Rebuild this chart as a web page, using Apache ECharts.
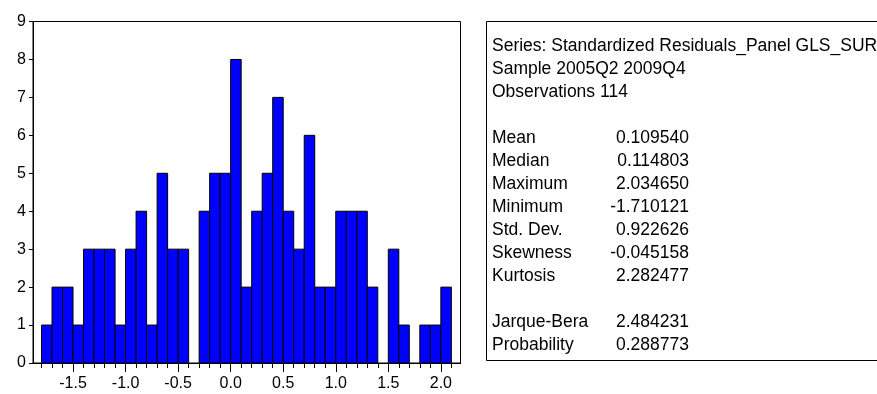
<!DOCTYPE html>
<html>
<head>
<meta charset="utf-8">
<script src="https://cdn.jsdelivr.net/npm/echarts@6/dist/echarts.min.js"></script>
<style>
  html, body { margin: 0; padding: 0; background: #fff; }
  #main { width: 877px; height: 394px; }
</style>
</head>
<body>
<div id="main"></div>
<script>
// histogram bins (left edge of each 0.1 wide bin) and counts
var binStarts = [-1.8, -1.7, -1.6, -1.5, -1.4, -1.3, -1.2, -1.1, -1.0, -0.9, -0.8, -0.7, -0.6, -0.5, -0.4, -0.3, -0.2, -0.1,
                 0.0, 0.1, 0.2, 0.3, 0.4, 0.5, 0.6, 0.7, 0.8, 0.9, 1.0, 1.1, 1.2, 1.3, 1.4, 1.5, 1.6, 1.7, 1.8, 1.9, 2.0];
var counts = [1, 2, 2, 1, 3, 3, 3, 1, 3, 4, 1, 5, 3, 3, 0, 4, 5, 5,
              8, 2, 4, 5, 7, 4, 3, 6, 2, 2, 4, 4, 4, 2, 0, 3, 1, 0, 1, 1, 2];
var binWidth = 0.1;

var xMajorTicks = [-1.5, -1.0, -0.5, 0.0, 0.5, 1.0, 1.5, 2.0];
var xMinorTicks = [-1.8, -1.7, -1.6, -1.5, -1.4, -1.3, -1.2, -1.1, -1.0, -0.9, -0.8, -0.7, -0.6, -0.5, -0.4, -0.3, -0.2, -0.1,
                   0.0, 0.1, 0.2, 0.3, 0.4, 0.5, 0.6, 0.7, 0.8, 0.9, 1.0, 1.1, 1.2, 1.3, 1.4, 1.5, 1.6, 1.7, 1.8, 1.9, 2.0, 2.1];

var headerLines = ['Series: Standardized Residuals_Panel GLS_SUR', 'Sample 2005Q2 2009Q4', 'Observations 114'];
var statNames = ['Mean', 'Median', 'Maximum', 'Minimum', 'Std. Dev.', 'Skewness', 'Kurtosis'];
var statValues = ['0.109540', '0.114803', '2.034650', '-1.710121', '0.922626', '-0.045158', '2.282477'];
var testNames = ['Jarque-Bera', 'Probability'];
var testValues = ['2.484231', '0.288773'];

var FONT = '"Liberation Sans", Arial, sans-serif';
var chart = echarts.init(document.getElementById('main'));

var histData = binStarts.map(function (s, i) { return [s, counts[i]]; }).filter(function (d) { return d[1] > 0; });

// stats panel on the right
var graphics = [{
    type: 'rect',
    shape: { x: 486.5, y: 21.5, width: 420, height: 339 },
    style: { fill: '#fff', stroke: '#000', lineWidth: 1 }
}];
var lineH = 23;
var y0 = 46;
function addText(txt, x, y, align) {
    graphics.push({
        type: 'text', x: x, y: y,
        style: { text: txt, fill: '#000', font: '17.5px ' + FONT, textAlign: align || 'left', textVerticalAlign: 'middle' }
    });
}
headerLines.forEach(function (t, i) { addText(t, 492, y0 + i * lineH); });
statNames.forEach(function (t, i) {
    addText(t, 492, y0 + (i + 4) * lineH);
    addText(statValues[i], 689, y0 + (i + 4) * lineH, 'right');
});
testNames.forEach(function (t, i) {
    addText(t, 492, y0 + (i + 12) * lineH);
    addText(testValues[i], 689, y0 + (i + 12) * lineH, 'right');
});

var option = {
    animation: false,
    backgroundColor: '#fff',
    grid: {
        left: 33, right: 416.5, top: 21.5, bottom: 31,
        show: true, borderColor: '#000', borderWidth: 1, backgroundColor: 'transparent'
    },
    xAxis: [
        {
            type: 'value', min: -1.881, max: 2.187,
            axisLine: { show: true, onZero: false, lineStyle: { color: '#000', width: 1 } },
            axisTick: { show: true, customValues: xMajorTicks, length: 9, lineStyle: { color: '#000' } },
            axisLabel: { show: true, customValues: xMajorTicks, color: '#000', fontSize: 16, fontFamily: FONT, margin: 13,
                formatter: function (v) { return v.toFixed(1); } },
            splitLine: { show: false }
        },
        {
            type: 'value', min: -1.881, max: 2.187, position: 'bottom',
            axisLine: { show: false },
            axisTick: { show: true, customValues: xMinorTicks, length: 5, lineStyle: { color: '#000' } },
            axisLabel: { show: false },
            splitLine: { show: false }
        }
    ],
    yAxis: {
        type: 'value', min: 0, max: 9, interval: 1,
        axisLine: { show: true, onZero: false, lineStyle: { color: '#000', width: 1 } },
        axisTick: { show: true, length: 4, lineStyle: { color: '#000' } },
        axisLabel: { color: '#000', fontSize: 16, fontFamily: FONT, margin: 7 },
        splitLine: { show: false }
    },
    series: [{
        type: 'custom',
        clip: false,
        data: histData,
        encode: { x: 0, y: 1 },
        renderItem: function (params, api) {
            var start = api.value(0);
            var top = api.coord([start, api.value(1)]);
            var bottom = api.coord([start + binWidth, 0]);
            return {
                type: 'rect',
                shape: { x: top[0], y: top[1], width: bottom[0] - top[0], height: bottom[1] - top[1] },
                style: { fill: '#0000FF', stroke: '#000', lineWidth: 1 }
            };
        }
    }],
    graphic: graphics
};
chart.setOption(option);
</script>
</body>
</html>
